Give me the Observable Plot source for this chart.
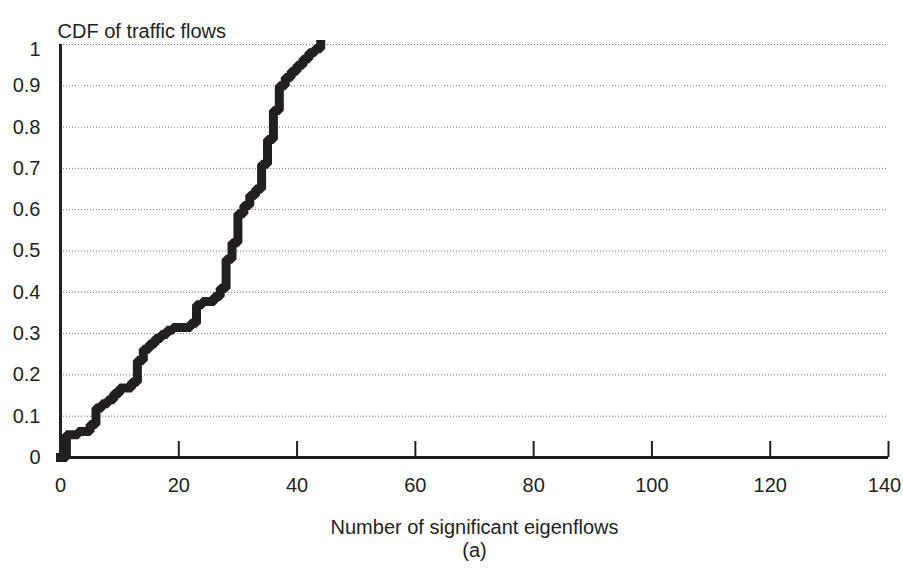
<!DOCTYPE html>
<html>
<head>
<meta charset="utf-8">
<script src="https://cdn.jsdelivr.net/npm/d3@7"></script>
<script src="https://cdn.jsdelivr.net/npm/@observablehq/plot@0.6"></script>
<style>
  html, body { margin: 0; padding: 0; background: #fff; }
  #chart svg { display: block; }
</style>
</head>
<body>
<div id="chart"></div>
<script>
// Number of significant eigenflows per traffic flow (step positions)
const eigenflows = [0, 1, 3, 5, 6, 7, 8, 9, 10, 12, 13, 14, 15, 16, 17, 18, 19, 22, 23, 24,
  26, 27, 28, 29, 30, 31, 32, 33, 34, 35, 36, 37, 38, 39, 40, 41, 42, 43, 44];
// Cumulative fraction of traffic flows at each step
const cdf = [0, 0.055, 0.063, 0.08, 0.12, 0.13, 0.14, 0.155, 0.168, 0.182, 0.235, 0.262, 0.275,
  0.288, 0.298, 0.308, 0.315, 0.325, 0.37, 0.378, 0.39, 0.41, 0.48, 0.52, 0.59, 0.61, 0.635,
  0.65, 0.71, 0.77, 0.84, 0.9, 0.92, 0.935, 0.95, 0.965, 0.98, 0.99, 1.0];

const xTicks = [0, 20, 40, 60, 80, 100, 120, 140];
const yTicks = [0, 0.1, 0.2, 0.3, 0.4, 0.5, 0.6, 0.7, 0.8, 0.9, 1];

const yTitle = "CDF of traffic flows";
const xTitle = "Number of significant eigenflows";
const panel = "(a)";

const data = eigenflows.map((x, i) => ({x, y: cdf[i]}));

const ink = "#231f20";
const font = "Liberation Sans, Arial, Helvetica, sans-serif";
const W = 903, H = 569;
const M = {top: 44, right: 15, bottom: 112, left: 60};
const tickLen = 16;
const fs = 20;
const yFormat = d => (d === 0 || d === 1) ? String(d) : d.toFixed(1);
const xMax = xTicks[xTicks.length - 1];
const yMax = yTicks[yTicks.length - 1];

const chart = Plot.plot({
  width: W,
  height: H,
  marginTop: M.top,
  marginRight: M.right,
  marginBottom: M.bottom,
  marginLeft: M.left,
  style: {fontFamily: font, fontSize: `${fs}px`, color: ink, background: "#fff"},
  x: {domain: [0, xMax]},
  y: {domain: [0, yMax]},
  marks: [
    // dotted horizontal gridlines
    Plot.ruleY(yTicks.filter(d => d > 0), {stroke: "#6d6d6d", strokeWidth: 1, strokeDasharray: "1,2"}),
    // the CDF step curve
    Plot.line(data, {
      x: "x", y: "y", curve: "step-after",
      stroke: ink, strokeWidth: 9, strokeLinejoin: "miter", strokeLinecap: "square"
    }),
    // axis lines
    Plot.ruleX([0], {stroke: ink, strokeWidth: 3}),
    Plot.ruleY([0], {stroke: ink, strokeWidth: 3}),
    // inward x tick marks
    Plot.ruleX(xTicks.filter(d => d > 0), {stroke: ink, strokeWidth: 2, insetTop: H - M.top - M.bottom - tickLen}),
    Plot.axisX({ticks: xTicks.filter(d => d < xMax), tickSize: 0, tickPadding: 20, label: null, fontSize: fs, fill: ink}),
    // last label nudged left so it stays inside the frame
    Plot.axisX({ticks: [xMax], tickSize: 0, tickPadding: 20, label: null, fontSize: fs, fill: ink, dx: -4}),
    Plot.axisY({ticks: yTicks.filter(d => d < yMax), tickSize: 0, tickPadding: 20, tickFormat: yFormat, label: null, fontSize: fs, fill: ink}),
    // top label sits a little below its gridline, clear of the title
    Plot.axisY({ticks: [yMax], tickSize: 0, tickPadding: 20, tickFormat: yFormat, label: null, fontSize: fs, fill: ink, dy: 5}),
    // titles
    Plot.text([yTitle], {frameAnchor: "top-left", textAnchor: "start", dx: -3, dy: -21, fontSize: fs, fill: ink}),
    Plot.text([xTitle], {frameAnchor: "bottom", dy: 76, fontSize: fs, fill: ink}),
    Plot.text([panel], {frameAnchor: "bottom", dy: 99, fontSize: fs, fill: ink})
  ]
});

document.getElementById("chart").appendChild(chart);
</script>
</body>
</html>
